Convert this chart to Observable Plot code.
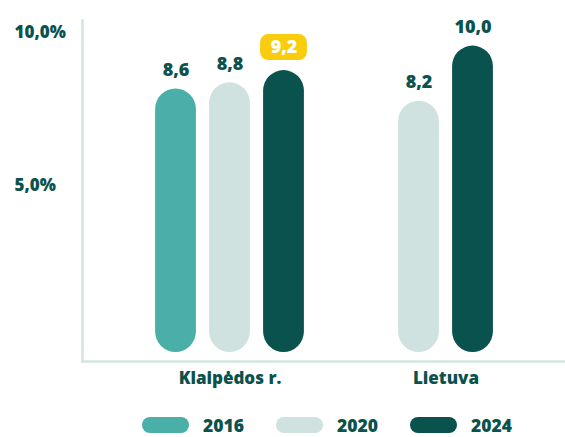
<!DOCTYPE html>
<html>
<head>
<meta charset="utf-8">
<script src="https://cdn.jsdelivr.net/npm/d3@7"></script>
<script src="https://cdn.jsdelivr.net/npm/@observablehq/plot@0.6"></script>
<style>
  html, body { margin: 0; padding: 0; background: #fff; }
  body { width: 565px; height: 437px; overflow: hidden; font-family: "Open Sans", sans-serif; }
  #chart svg { display: block; }
  #legend { display: flex; align-items: center; height: 18px; margin-top: 6px; padding-left: 142px; }
  .sw { width: 47px; height: 16px; border-radius: 8px; margin-right: 14px; flex: none; }
  .lab { font-size: 17.5px; font-weight: 800; color: #0B514C; line-height: 18px; width: 73px; flex: none; }
</style>
</head>
<body>
<div id="chart"></div>
<div id="legend"></div>
<script>
// ---- data ----
const regions = ["Klaipėdos r.", "Lietuva"];
const years = ["2016", "2020", "2024"];
const klaipedaValues = [8.6, 8.8, 9.2];
const lietuvaValues = [null, 8.2, 10.0];
const yTicks = [5, 10];
const yTickLabels = ["5,0%", "10,0%"];
const highlightRegion = "Klaipėdos r.";
const highlightYear = "2024";

// ---- styling ----
const yearColors = ["#4AAFA6", "#CFE2DF", "#0A524E"];
const textColor = "#0B514C";
const lineColor = "#D3E4E1";
const yellow = "#F9CD0E";

// slot layout (band keys): Klaipėdos bars on alternate slots, spacer, Lietuva bars centred
const slotDomain = [
  "K|2016", "K|a", "K|2020", "K|b", "K|2024",
  "s1", "s2", "s3", "s4",
  "L|2020", "L|mid", "L|2024"
];
const prefix = {"Klaipėdos r.": "K", "Lietuva": "L"};
const labelSlot = {"Klaipėdos r.": "K|2020", "Lietuva": "L|mid"};

const rows = [];
[klaipedaValues, lietuvaValues].forEach((vals, r) => {
  vals.forEach((v, i) => {
    if (v == null) return;
    rows.push({region: regions[r], year: years[i], value: v, slot: prefix[regions[r]] + "|" + years[i]});
  });
});
const fmt = v => v.toFixed(1).replace(".", ",");
const normalRows = rows.filter(d => !(d.region === highlightRegion && d.year === highlightYear));
const hiRows = rows.filter(d => d.region === highlightRegion && d.year === highlightYear);
const tickRows = yTicks.map((t, i) => ({t, label: yTickLabels[i]}));
const regionRows = regions.map(r => ({region: r, slot: labelSlot[r]}));

const chart = Plot.plot({
  width: 565,
  height: 410,
  marginLeft: 82,
  marginRight: 0,
  marginTop: 20,
  marginBottom: 49,
  style: {fontFamily: "'Open Sans', sans-serif", background: "#fff"},
  x: {type: "band", domain: slotDomain, paddingInner: 0, paddingOuter: 2.879, axis: null},
  y: {domain: [0, 10.835], insetBottom: 9, axis: null},
  color: {domain: years, range: yearColors},
  marks: [
    Plot.frame({anchor: "left", stroke: lineColor, strokeWidth: 2.5}),
    Plot.frame({anchor: "bottom", stroke: lineColor, strokeWidth: 2.5}),
    Plot.barY(rows, {x: "slot", y: "value", fill: "year", rx: 20.5, insetLeft: -6.9, insetRight: -6.9}),
    Plot.text(normalRows, {x: "slot", y: "value", text: d => fmt(d.value), dy: -19,
      fill: textColor, fontSize: 18, fontWeight: 800}),
    Plot.barY(hiRows, {x: "slot", y1: "value", y2: "value", fill: yellow, rx: 8,
      insetTop: -36, insetBottom: 10, insetLeft: -9.9, insetRight: -9.9}),
    Plot.text(hiRows, {x: "slot", y: "value", text: d => fmt(d.value), dy: -23,
      fill: "#fff", fontSize: 18, fontWeight: 800}),
    Plot.text(tickRows, {y: "t", text: "label", frameAnchor: "left", textAnchor: "start", dx: -68, dy: -14,
      fill: textColor, fontSize: 17, fontWeight: 800}),
    Plot.text(regionRows, {x: "slot", text: "region", frameAnchor: "bottom", dy: 22,
      fill: textColor, fontSize: 17, fontWeight: 800})
  ]
});
document.getElementById("chart").appendChild(chart);

const legend = document.getElementById("legend");
years.forEach((y, i) => {
  const sw = document.createElement("div");
  sw.className = "sw";
  sw.style.background = yearColors[i];
  const lab = document.createElement("div");
  lab.className = "lab";
  lab.textContent = y;
  legend.appendChild(sw);
  legend.appendChild(lab);
});
</script>
</body>
</html>
